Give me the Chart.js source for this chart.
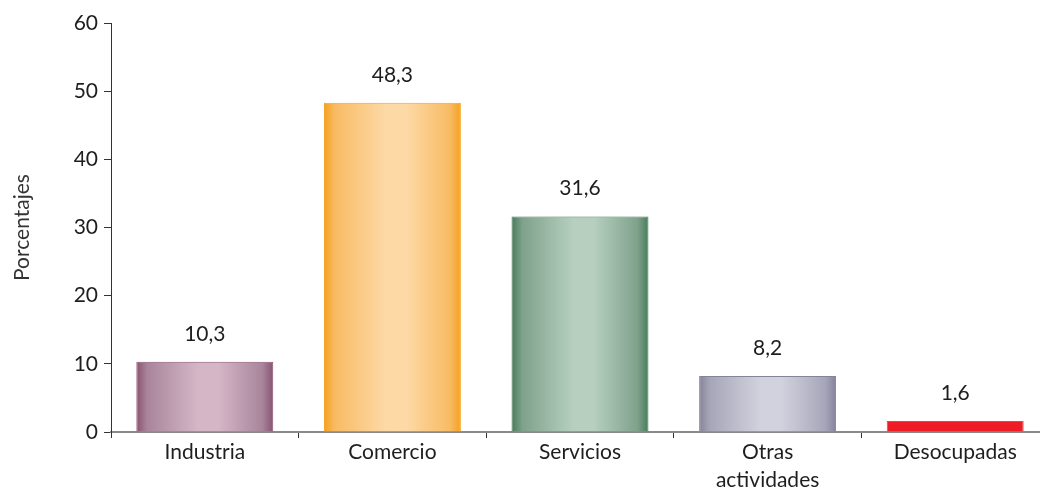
<!DOCTYPE html>
<html>
<head>
<meta charset="utf-8">
<script src="https://cdn.jsdelivr.net/npm/chart.js@4"></script>
<style>
  html, body { margin: 0; padding: 0; background: #fff; overflow: hidden; }
  #wrap { width: 1049px; height: 487px; }
</style>
</head>
<body>
<div id="wrap"><canvas id="chart"></canvas></div>
<script>
const categories = ['Industria', 'Comercio', 'Servicios', ['Otras', 'actividades'], 'Desocupadas'];
const values = [10.3, 48.3, 31.6, 8.2, 1.6];
const yTicks = [0, 10, 20, 30, 40, 50, 60];

// edge / middle / centre colours per bar
const edgeColors = ['#8a5272', '#f5a01c', '#497a59', '#84839a', '#ee1c25'];
const midColors = ['#a9859a', '#f8bb64', '#7fa28b', '#a7a6b9', '#ee1c25'];
const lightColors = ['#d4b6c7', '#fdd9a6', '#b6cfbf', '#d2d2de', '#ee1c25'];
const borderColors = ['#8a5272', '#f5a01a', '#47765a', '#84839a', '#f0443a'];

const fontFam = 'Lato, "Open Sans", sans-serif';

const gradientBars = {
    id: 'gradientBars',
    beforeDatasetsDraw(chart) {
        const ctx = chart.ctx;
        chart.getDatasetMeta(0).data.forEach((bar, i) => {
            const left = bar.x - bar.width / 2;
            const right = bar.x + bar.width / 2;
            const g = ctx.createLinearGradient(left, 0, right, 0);
            g.addColorStop(0, edgeColors[i]);
            g.addColorStop(0.08, midColors[i]);
            g.addColorStop(0.45, lightColors[i]);
            g.addColorStop(0.6, lightColors[i]);
            g.addColorStop(0.92, midColors[i]);
            g.addColorStop(1, edgeColors[i]);
            bar.options.backgroundColor = g;
        });
    }
};

const valueLabels = {
    id: 'valueLabels',
    afterDatasetsDraw(chart) {
        const ctx = chart.ctx;
        ctx.save();
        ctx.font = '21px ' + fontFam;
        ctx.fillStyle = '#1e1e1e';
        ctx.textAlign = 'center';
        ctx.textBaseline = 'middle';
        chart.getDatasetMeta(0).data.forEach((bar, i) => {
            const txt = values[i].toFixed(1).replace('.', ',');
            ctx.fillText(txt, bar.x, bar.y - 28);
        });
        ctx.restore();
    }
};

new Chart(document.getElementById('chart'), {
    type: 'bar',
    data: {
        labels: categories,
        datasets: [{
            data: values,
            backgroundColor: edgeColors,
            borderColor: borderColors,
            borderWidth: 1,
            borderSkipped: 'bottom',
            barPercentage: 0.73,
            categoryPercentage: 1
        }]
    },
    options: {
        responsive: true,
        maintainAspectRatio: false,
        animation: false,
        layout: { padding: { top: 23, left: 0, right: 0, bottom: 0 } },
        plugins: {
            legend: { display: false },
            tooltip: { enabled: false }
        },
        scales: {
            x: {
                offset: true,
                afterFit: s => { s.height = 55; },
                border: { color: '#8a8a8a', width: 2 },
                grid: {
                    offset: true,
                    drawOnChartArea: false,
                    drawTicks: true,
                    tickLength: 6,
                    color: '#333'
                },
                ticks: {
                    color: '#1e1e1e',
                    padding: 1,
                    font: { family: fontFam, size: 21, lineHeight: 1.3 }
                }
            },
            y: {
                min: 0,
                max: 60,
                afterFit: s => { s.width = 111; },
                afterBuildTicks: s => { s.ticks = yTicks.map(v => ({ value: v })); },
                border: { color: '#333', width: 1 },
                grid: {
                    drawOnChartArea: false,
                    tickLength: 7,
                    color: '#333'
                },
                ticks: {
                    color: '#1e1e1e',
                    padding: 6,
                    font: { family: fontFam, size: 21 }
                },
                title: {
                    display: true,
                    text: 'Porcentajes',
                    color: '#333',
                    padding: { top: 10, bottom: 0 },
                    font: { family: fontFam, size: 21 }
                }
            }
        }
    },
    plugins: [gradientBars, valueLabels]
});
</script>
</body>
</html>
